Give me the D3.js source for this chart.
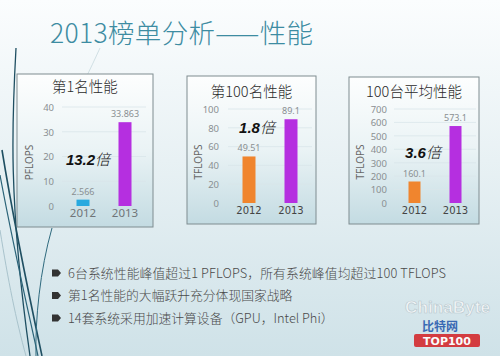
<!DOCTYPE html>
<html><head><meta charset="utf-8">
<script src="https://cdn.jsdelivr.net/npm/d3@7"></script>
<style>body{margin:0;padding:0;overflow:hidden}svg{display:block}</style>
</head><body>
<svg id="c" width="500" height="356"></svg>
<script>
// ---- data ----
const years = ["2012", "2013"];
const panelTitles = ["第1名性能", "第100名性能", "100台平均性能"];
const units = ["PFLOPS", "TFLOPS", "TFLOPS"];
const values1 = [2.566, 33.863];
const values100 = [49.51, 89.1];
const valuesAvg = [160.1, 573.1];
const valueLabels1 = ["2.566", "33.863"];
const valueLabels100 = ["49.51", "89.1"];
const valueLabelsAvg = ["160.1", "573.1"];
const ticks1 = [0, 10, 20, 30, 40];
const ticks100 = [0, 20, 40, 60, 80, 100];
const ticksAvg = [0, 100, 200, 300, 400, 500, 600, 700];
const ratios = ["13.2", "1.8", "3.6"];
const bullets = [
  "6台系统性能峰值超过1 PFLOPS，所有系统峰值均超过100 TFLOPS",
  "第1名性能的大幅跃升充分体现国家战略",
  "14套系统采用加速计算设备（GPU，Intel Phi）"
];
const pageTitle = "2013榜单分析——性能";

const svg = d3.select("#c");
const defs = svg.append("defs");
const bg = defs.append("linearGradient").attr("id","bg").attr("x1",0).attr("y1",0).attr("x2",0).attr("y2",1);
bg.append("stop").attr("offset","0").attr("stop-color","#fbfdfe");
bg.append("stop").attr("offset","0.45").attr("stop-color","#e8f1f4");
bg.append("stop").attr("offset","1").attr("stop-color","#cfe2e8");
const pg = defs.append("linearGradient").attr("id","pg").attr("x1",0).attr("y1",0).attr("x2",0).attr("y2",1);
pg.append("stop").attr("offset","0").attr("stop-color","#fdfefe");
pg.append("stop").attr("offset","0.5").attr("stop-color","#eaf3f5");
pg.append("stop").attr("offset","1").attr("stop-color","#c3dbe2");

svg.append("rect").attr("width",500).attr("height",356).attr("fill","url(#bg)");

// decorative left curves
const deco = [
  {d:"M16,48 C12,120 8,200 30,356", c:"#1f4f62", w:1.3},
  {d:"M2,150 C15,230 30,300 42,356", c:"#1f4f62", w:1.6},
  {d:"M0,175 C14,250 28,310 38,356", c:"#2a6378", w:1.2},
  {d:"M52,228 C40,270 35,320 36,356", c:"#2f6a7e", w:1},
  {d:"M0,230 C8,280 16,320 26,356", c:"#a9c3cc", w:1},
  {d:"M100,48 C90,70 80,90 70,110", c:"#c8d9de", w:0.8}
];
svg.append("g").selectAll("path").data(deco).join("path")
  .attr("d",d=>d.d).attr("fill","none").attr("stroke",d=>d.c).attr("stroke-width",d=>d.w);

svg.append("text").attr("x",50).attr("y",43).text(pageTitle)
  .attr("font-family","'Noto Sans CJK SC', 'Noto Sans', sans-serif").attr("font-size",26.5)
  .attr("font-weight",300).attr("fill","#3d8ca2").attr("textLength",263).attr("lengthAdjust","spacing");

const panels = [
  {box:[17,74,136,153], xr:[62,146], y0:206, y1:107, ticks:ticks1, vals:values1, labels:valueLabels1,
   colors:["#27a9df","#b52fe0"], tickX:54, unitX:33, ratioPos:[88,160], titleY:92, bw:13},
  {box:[187,76,129,148], xr:[228,312], y0:203, y1:109, ticks:ticks100, vals:values100, labels:valueLabels100,
   colors:["#f0852e","#b52fe0"], tickX:219, unitX:202, ratioPos:[257,128], titleY:97, bw:13},
  {box:[349,77,130,147], xr:[394,476], y0:203, y1:109, ticks:ticksAvg, vals:valuesAvg, labels:valueLabelsAvg,
   colors:["#f0852e","#b52fe0"], tickX:387, unitX:364, ratioPos:[423,153], titleY:97, bw:12}
];

panels.forEach((p,i)=>{
  const g = svg.append("g");
  const [bx,by,bw,bh] = p.box;
  g.append("rect").attr("x",bx).attr("y",by).attr("width",bw).attr("height",bh)
    .attr("fill","url(#pg)").attr("stroke","#7f8c90").attr("stroke-width",1);
  g.append("text").attr("x",bx+bw/2).attr("y",p.titleY).attr("text-anchor","middle")
    .attr("font-family","'Noto Sans CJK SC', sans-serif").attr("font-size",14.5).attr("font-weight",300)
    .attr("fill","#2a2a2a").text(panelTitles[i]);
  const y = d3.scaleLinear().domain([0, d3.max(p.ticks)]).range([p.y0, p.y1]);
  const x = d3.scaleBand().domain(years).range(p.xr).paddingInner(0.3).paddingOuter(0.15);
  // gridlines
  g.selectAll(".grid").data(p.ticks.slice(1)).join("line")
    .attr("x1",p.xr[0]).attr("x2",p.xr[1]).attr("y1",d=>y(d)).attr("y2",d=>y(d))
    .attr("stroke","#d9e6ea").attr("stroke-width",0.8);
  // ticks via axis
  const ax = g.append("g").attr("transform",`translate(${p.tickX},0)`)
    .call(d3.axisLeft(y).tickValues(p.ticks).tickSize(0).tickPadding(0));
  ax.select(".domain").remove();
  ax.selectAll("text").attr("font-family","'Noto Sans', sans-serif").attr("font-size",9.5)
    .attr("fill","#8a8f92").attr("dy","0.35em");
  // unit
  g.append("text").attr("transform",`translate(${p.unitX},${(p.y0+p.y1)/2+6}) rotate(-90)`)
    .attr("text-anchor","middle").attr("font-family","'Noto Sans', sans-serif").attr("font-size",10)
    .attr("fill","#666").text(units[i]);
  // bars
  const cx = d=>x(d)+x.bandwidth()/2;
  g.selectAll(".bar").data(years).join("rect")
    .attr("x",d=>cx(d)-p.bw/2).attr("width",p.bw)
    .attr("y",(d,j)=>y(p.vals[j])).attr("height",(d,j)=>p.y0-y(p.vals[j]))
    .attr("fill",(d,j)=>p.colors[j]);
  // value labels
  g.selectAll(".vl").data(years).join("text")
    .attr("x",cx).attr("y",(d,j)=>y(p.vals[j])-5).attr("text-anchor","middle")
    .attr("font-family","'Noto Sans', sans-serif").attr("font-size",9).attr("fill","#8a8f92")
    .text((d,j)=>p.labels[j]);
  // x labels
  g.selectAll(".xl").data(years).join("text")
    .attr("x",cx).attr("y",p.y0+11).attr("text-anchor","middle")
    .attr("font-family", i===0 ? "'Noto Sans', sans-serif" : "'DejaVu Sans', sans-serif")
    .attr("font-size", i===0 ? 11.5 : 10).attr("fill", i===0 ? "#707578" : "#444")
    .text(d=>d);
  // ratio
  const rt = g.append("text").attr("x",p.ratioPos[0]).attr("y",p.ratioPos[1]+5).attr("text-anchor","middle")
    .attr("font-size",15).attr("fill","#111");
  rt.append("tspan").attr("font-family","'Liberation Sans', sans-serif").attr("font-weight","bold")
    .attr("font-style","italic").text(ratios[i]);
  rt.append("tspan").attr("font-family","'Noto Sans CJK SC', sans-serif").attr("font-style","italic")
    .attr("font-weight","300").text("倍");
});

// bullets
const bg2 = svg.append("g");
bullets.forEach((b,i)=>{
  const yy = 273 + i*22.5;
  bg2.append("path").attr("d",`M52,${yy-3.5} h6 l3,3.5 l-3,3.5 h-6 z`).attr("fill","#333");
  const t = bg2.append("text").attr("x",68).attr("y",yy+4.5).attr("font-family","'Noto Sans CJK SC', sans-serif")
    .attr("font-size",12.8).attr("font-weight",300).attr("fill","#4a4a4a").text(b);
  if (i===0) t.attr("textLength",378).attr("lengthAdjust","spacing");
});

// watermark logo
const lg = svg.append("g").attr("opacity",0.9);
lg.append("text").attr("x",405).attr("y",313).attr("font-family","'Liberation Sans', sans-serif")
  .attr("font-size",16).attr("font-weight","bold").attr("fill","#f4f7f8").attr("stroke","#b7c6cc")
  .attr("stroke-width",0.6).attr("textLength",85).attr("lengthAdjust","spacingAndGlyphs").text("ChinaByte");
lg.append("text").attr("x",422).attr("y",331).attr("font-family","'Noto Sans CJK SC', sans-serif")
  .attr("font-size",12).attr("font-weight","bold").attr("fill","#2a5cae").text("比特网");
lg.append("rect").attr("x",414).attr("y",334).attr("width",66).attr("height",13).attr("rx",2).attr("fill","#d42a2e");
lg.append("text").attr("x",447).attr("y",345).attr("text-anchor","middle").attr("font-family","'DejaVu Sans', sans-serif")
  .attr("font-weight","bold").attr("font-size",11).attr("fill","#fff").text("TOP100");
</script>
</body></html>
